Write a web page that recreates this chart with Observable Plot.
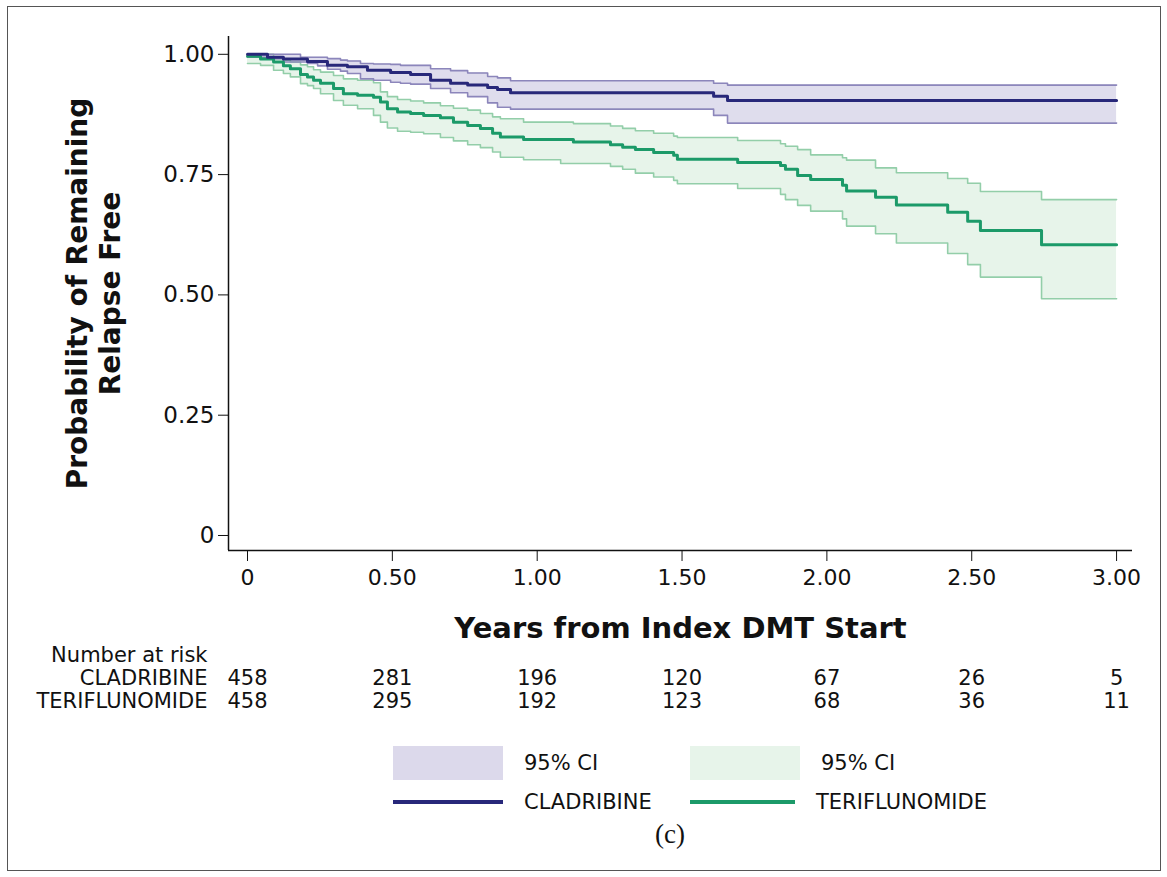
<!DOCTYPE html>
<html><head><meta charset="utf-8">
<script src="https://cdn.jsdelivr.net/npm/d3@7"></script>
<script src="https://cdn.jsdelivr.net/npm/@observablehq/plot@0.6"></script>
<style>
body{margin:0;background:#fff;font-family:"DejaVu Sans",Verdana,sans-serif;color:#111;}
#page{position:relative;width:1167px;height:877px;overflow:hidden;}
#border{position:absolute;left:7px;top:6px;width:1154px;height:865px;border:1.5px solid #555;box-sizing:border-box;}
#main{position:absolute;left:0;top:0;}
#risk{position:absolute;left:0;top:645px;}
#legend{position:absolute;left:393px;top:743px;display:grid;grid-template-columns:297px 297px;grid-auto-rows:39px;font-size:21px;}
.item{display:flex;align-items:center;}
.sw{width:110px;height:34px;margin-right:21px;}
.ln{width:110px;height:4px;margin-right:21px;}
#cap{position:absolute;left:0;width:1340px;top:819px;text-align:center;font-family:"Liberation Serif",serif;font-size:27px;}
</style></head>
<body>
<div id="page">
  <div id="main"></div>
  <div id="risk"></div>
  <div id="legend"></div>
  <div id="cap">(c)</div>
  <div id="border"></div>
</div>
<script>
// ---- Kaplan–Meier step data ----
const cladTime  = [0, 0.069, 0.124, 0.183, 0.207, 0.242, 0.276, 0.321, 0.345, 0.390, 0.414, 0.435, 0.494, 0.528, 0.563, 0.632, 0.701, 0.760, 0.829, 0.863, 0.908, 1.609, 1.657, 3.0];
const cladEst   = [1.000, 0.994, 0.990, 0.990, 0.985, 0.985, 0.977, 0.977, 0.974, 0.974, 0.967, 0.967, 0.962, 0.962, 0.958, 0.946, 0.940, 0.936, 0.931, 0.927, 0.920, 0.913, 0.904, 0.904];
const cladLower = [0.994, 0.991, 0.984, 0.984, 0.981, 0.976, 0.969, 0.965, 0.960, 0.949, 0.949, 0.946, 0.942, 0.940, 0.938, 0.929, 0.920, 0.912, 0.899, 0.890, 0.886, 0.873, 0.857, 0.857];
const cladUpper = [1.000, 1.000, 1.000, 0.994, 0.994, 0.994, 0.991, 0.988, 0.986, 0.981, 0.981, 0.980, 0.979, 0.977, 0.977, 0.970, 0.966, 0.961, 0.954, 0.951, 0.945, 0.940, 0.936, 0.936];

const teriTime  = [0, 0.045, 0.090, 0.124, 0.148, 0.183, 0.207, 0.228, 0.252, 0.297, 0.331, 0.380, 0.435, 0.459, 0.483, 0.518, 0.563, 0.608, 0.666, 0.711, 0.760, 0.804, 0.846, 0.873, 0.953, 1.081, 1.125, 1.253, 1.295, 1.339, 1.402, 1.471, 1.484, 1.692, 1.840, 1.857, 1.899, 1.944, 2.054, 2.068, 2.168, 2.240, 2.417, 2.486, 2.530, 2.741, 3.0];
const teriEst   = [0.996, 0.990, 0.984, 0.976, 0.970, 0.958, 0.953, 0.946, 0.940, 0.929, 0.918, 0.915, 0.911, 0.901, 0.887, 0.880, 0.877, 0.873, 0.868, 0.859, 0.852, 0.846, 0.836, 0.828, 0.823, 0.823, 0.818, 0.812, 0.807, 0.802, 0.796, 0.790, 0.782, 0.775, 0.769, 0.761, 0.748, 0.740, 0.728, 0.716, 0.703, 0.687, 0.672, 0.653, 0.634, 0.604, 0.604];
const teriLower = [0.981, 0.977, 0.967, 0.960, 0.953, 0.939, 0.935, 0.929, 0.918, 0.904, 0.894, 0.887, 0.873, 0.859, 0.847, 0.840, 0.838, 0.835, 0.827, 0.820, 0.812, 0.806, 0.797, 0.786, 0.781, 0.773, 0.773, 0.767, 0.761, 0.753, 0.745, 0.738, 0.731, 0.721, 0.709, 0.698, 0.686, 0.674, 0.658, 0.643, 0.627, 0.608, 0.586, 0.563, 0.537, 0.492, 0.492];
const teriUpper = [1.000, 1.000, 0.991, 0.988, 0.984, 0.978, 0.974, 0.968, 0.963, 0.956, 0.949, 0.946, 0.941, 0.922, 0.912, 0.906, 0.903, 0.899, 0.893, 0.888, 0.884, 0.877, 0.870, 0.866, 0.859, 0.859, 0.856, 0.851, 0.846, 0.841, 0.836, 0.830, 0.827, 0.821, 0.814, 0.809, 0.802, 0.791, 0.785, 0.780, 0.764, 0.754, 0.742, 0.732, 0.715, 0.698, 0.698];

// ---- Number at risk ----
const riskTimes = [0, 0.5, 1.0, 1.5, 2.0, 2.5, 3.0];
const cladRisk  = [458, 281, 196, 120, 67, 26, 5];
const teriRisk  = [458, 295, 192, 123, 68, 36, 11];

// ---- Ticks and labels ----
const xTicks = [0, 0.5, 1.0, 1.5, 2.0, 2.5, 3.0];
const yTicks = [0, 0.25, 0.5, 0.75, 1.0];
const groups = ["CLADRIBINE", "TERIFLUNOMIDE"];
const riskHeader = "Number at risk";
const xTitle = "Years from Index DMT Start";
const yTitle = "Probability of Remaining\nRelapse Free";
const ciLabel = "95% CI";

// ---- styling ----
const colors = {
  CLADRIBINE:    {line: "#28287a", edge: "#8c86bb", fill: "#dcd9eb"},
  TERIFLUNOMIDE: {line: "#1c9a69", edge: "#93cea9", fill: "#e7f4ea"}
};
const xDom = [-0.0656, 3.055];
const yDom = [-0.0312, 1.037];

const build = (time, est, lo, hi) => time.map((t, i) => ({t, s: est[i], lo: lo[i], hi: hi[i]}));
const clad = build(cladTime, cladEst, cladLower, cladUpper);
const teri = build(teriTime, teriEst, teriLower, teriUpper);
const fmt = d => d === 0 ? "0" : d.toFixed(2);

const main = Plot.plot({
  width: 1167, height: 645,
  marginLeft: 228, marginRight: 35, marginTop: 36, marginBottom: 95,
  style: {fontFamily: "DejaVu Sans, Verdana, sans-serif", fontSize: "22px", color: "#111", background: "white", overflow: "visible"},
  x: {domain: xDom},
  y: {domain: yDom},
  marks: [
    Plot.areaY(teri, {x: "t", y1: "lo", y2: "hi", curve: "step-after", fill: colors.TERIFLUNOMIDE.fill}),
    Plot.areaY(clad, {x: "t", y1: "lo", y2: "hi", curve: "step-after", fill: colors.CLADRIBINE.fill, fillOpacity: 0.9}),
    Plot.line(teri, {x: "t", y: "lo", curve: "step-after", stroke: colors.TERIFLUNOMIDE.edge, strokeWidth: 1.6}),
    Plot.line(teri, {x: "t", y: "hi", curve: "step-after", stroke: colors.TERIFLUNOMIDE.edge, strokeWidth: 1.6}),
    Plot.line(clad, {x: "t", y: "lo", curve: "step-after", stroke: colors.CLADRIBINE.edge, strokeWidth: 1.6}),
    Plot.line(clad, {x: "t", y: "hi", curve: "step-after", stroke: colors.CLADRIBINE.edge, strokeWidth: 1.6}),
    Plot.line(teri, {x: "t", y: "s", curve: "step-after", stroke: colors.TERIFLUNOMIDE.line, strokeWidth: 3}),
    Plot.line(clad, {x: "t", y: "s", curve: "step-after", stroke: colors.CLADRIBINE.line, strokeWidth: 3}),
    Plot.ruleX([xDom[0]], {y1: yDom[0], y2: yDom[1], stroke: "#111", strokeWidth: 1.5}),
    Plot.ruleY([yDom[0]], {x1: xDom[0], x2: xDom[1], stroke: "#111", strokeWidth: 1.5}),
    Plot.axisX({ticks: xTicks, tickFormat: fmt, tickSize: 11, tickPadding: 8, fontSize: 22, label: null, stroke: "#111"}),
    Plot.axisY({ticks: yTicks, tickFormat: fmt, tickSize: 10, tickPadding: 4, fontSize: 23, label: null, stroke: "#111"}),
    Plot.text([xTitle], {frameAnchor: "bottom", dy: 78, lineAnchor: "middle", textAnchor: "middle", fontSize: 29, fontWeight: "bold", fill: "#111"}),
    Plot.text([yTitle], {frameAnchor: "left", dx: -136, rotate: -90, textAnchor: "middle", lineAnchor: "middle", fontSize: 28, fontWeight: "bold", lineHeight: 1.18, fill: "#111"})
  ]
});
document.getElementById("main").appendChild(main);

const riskRows = [
  ...riskTimes.map((t, i) => ({t, g: groups[0], n: cladRisk[i]})),
  ...riskTimes.map((t, i) => ({t, g: groups[1], n: teriRisk[i]}))
];
const risk = Plot.plot({
  width: 1167, height: 65,
  marginLeft: 228, marginRight: 35, marginTop: 9, marginBottom: 9,
  style: {fontFamily: "DejaVu Sans, Verdana, sans-serif", fontSize: "21px", color: "#111", background: "transparent", overflow: "visible"},
  x: {domain: xDom, axis: null},
  y: {type: "point", domain: [riskHeader, ...groups], padding: 0, tickSize: 0, tickPadding: 21, label: null},
  marks: [
    Plot.text(riskRows, {x: "t", y: "g", text: "n", fontSize: 21, fill: "#111"})
  ]
});
document.getElementById("risk").appendChild(risk);

// legend
const leg = document.getElementById("legend");
const items = [
  {cls: "sw", color: colors.CLADRIBINE.fill, label: ciLabel},
  {cls: "sw", color: colors.TERIFLUNOMIDE.fill, label: ciLabel},
  {cls: "ln", color: colors.CLADRIBINE.line, label: groups[0]},
  {cls: "ln", color: colors.TERIFLUNOMIDE.line, label: groups[1]}
];
for (const it of items) {
  const d = document.createElement("div"); d.className = "item";
  const s = document.createElement("div"); s.className = it.cls; s.style.background = it.color;
  const t = document.createElement("span"); t.textContent = it.label;
  d.appendChild(s); d.appendChild(t); leg.appendChild(d);
}
</script>
</body></html>
